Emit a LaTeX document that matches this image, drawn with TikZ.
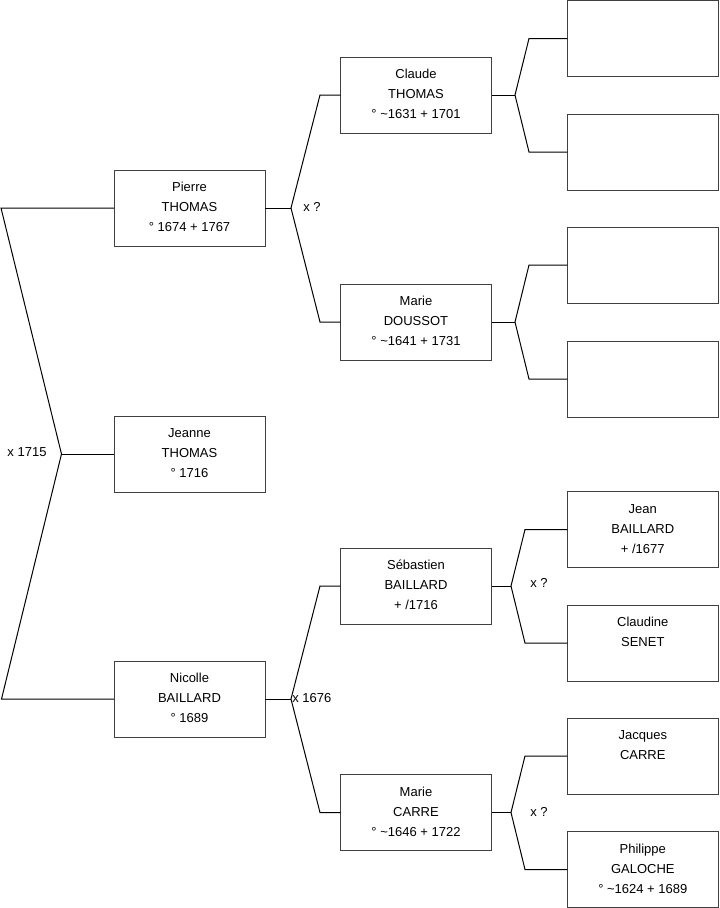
\documentclass[tikz,border=0pt]{standalone}
\usepackage{fontspec}
\setmainfont{Liberation Sans}
\usetikzlibrary{calc}
\newcommand\plines[1]{\begin{tabular}[t]{@{}c@{}}#1\end{tabular}}
\begin{document}
\begin{tikzpicture}[x=0.75pt,y=-0.75pt,
  pbox/.style={draw=black!75, line width=0.75pt, minimum width=113.25pt, minimum height=57pt, inner sep=0pt, outer sep=0pt},
  ptext/.style={anchor=base, inner sep=0pt, font=\fontsize{9.75}{15}\selectfont},
  conn/.style={draw=black, line width=0.75pt},
  marr/.style={inner sep=0pt, font=\fontsize{9.75}{15}\selectfont}]
\useasboundingbox (0,0) rectangle (719,908);

% boxes
\node[pbox] (pierre) at (189.5,208) {};
\node[pbox] (jeanne) at (189.5,454) {};
\node[pbox] (nicolle) at (189.5,699) {};
\node[pbox] (claude) at (416,95) {};
\node[pbox] (marieD) at (416,322) {};
\node[pbox] (sebastien) at (416,586) {};
\node[pbox] (marieC) at (416,812.5) {};
\node[pbox] (c1) at (642.8,38.5) {};
\node[pbox] (c2) at (642.8,152) {};
\node[pbox] (c3) at (642.8,265) {};
\node[pbox] (c4) at (642.8,379) {};
\node[pbox] (jean) at (642.8,529.5) {};
\node[pbox] (claudine) at (642.8,643) {};
\node[pbox] (jacques) at (642.8,756) {};
\node[pbox] (philippe) at (642.8,869.5) {};

% texts
\node[ptext] (pierreT) at ($(pierre.north)+(0,21.5)$) {\plines{Pierre\\THOMAS\\° 1674 + 1767}};
\node[ptext] (jeanneT) at ($(jeanne.north)+(0,21.5)$) {\plines{Jeanne\\THOMAS\\° 1716}};
\node[ptext] (nicolleT) at ($(nicolle.north)+(0,21.5)$) {\plines{Nicolle\\BAILLARD\\° 1689}};
\node[ptext] (claudeT) at ($(claude.north)+(0,21.5)$) {\plines{Claude\\THOMAS\\° \textasciitilde 1631 + 1701}};
\node[ptext] (marieDT) at ($(marieD.north)+(0,21.5)$) {\plines{Marie\\DOUSSOT\\° \textasciitilde 1641 + 1731}};
\node[ptext] (sebastienT) at ($(sebastien.north)+(0,21.5)$) {\plines{Sébastien\\BAILLARD\\+ /1716}};
\node[ptext] (marieCT) at ($(marieC.north)+(0,21.5)$) {\plines{Marie\\CARRE\\° \textasciitilde 1646 + 1722}};
\node[ptext] (jeanT) at ($(jean.north)+(0,21.5)$) {\plines{Jean\\BAILLARD\\+ /1677}};
\node[ptext] (claudineT) at ($(claudine.north)+(0,21.5)$) {\plines{Claudine\\SENET}};
\node[ptext] (jacquesT) at ($(jacques.north)+(0,21.5)$) {\plines{Jacques\\CARRE}};
\node[ptext] (philippeT) at ($(philippe.north)+(0,21.5)$) {\plines{Philippe\\GALOCHE\\° \textasciitilde 1624 + 1689}};

% joint coordinates
\coordinate (r0) at (1,208);
\coordinate (rv) at (61.5,454);
\coordinate (r1) at (1.5,699);
\coordinate (pv) at (291,208);
\coordinate (pa) at (320,95);
\coordinate (pb) at (320,322);
\coordinate (cv) at (515,95);
\coordinate (ca) at (529,38.5);
\coordinate (cb) at (529,152);
\coordinate (mv) at (515,322);
\coordinate (ma) at (529,265);
\coordinate (mb) at (529,379);
\coordinate (nv) at (291,699);
\coordinate (na) at (320,586);
\coordinate (nb) at (320,812.5);
\coordinate (sv) at (511,586);
\coordinate (sa) at (525,529.5);
\coordinate (sb) at (525,643);
\coordinate (qv) at (511,812.5);
\coordinate (qa) at (525,756);
\coordinate (qb) at (525,869.5);

% connectors
\draw[conn] (pierre.west) -- (r0) -- (rv) -- (r1) -- (nicolle.west);
\draw[conn] (rv) -- (jeanne.west);
\draw[conn] (claude.west) -- (pa) -- (pv) -- (pb) -- (marieD.west);
\draw[conn] (pierre.east) -- (pv);
\draw[conn] (c1.west) -- (ca) -- (cv) -- (cb) -- (c2.west);
\draw[conn] (claude.east) -- (cv);
\draw[conn] (c3.west) -- (ma) -- (mv) -- (mb) -- (c4.west);
\draw[conn] (marieD.east) -- (mv);
\draw[conn] (sebastien.west) -- (na) -- (nv) -- (nb) -- (marieC.west);
\draw[conn] (nicolle.east) -- (nv);
\draw[conn] (jean.west) -- (sa) -- (sv) -- (sb) -- (claudine.west);
\draw[conn] (sebastien.east) -- (sv);
\draw[conn] (jacques.west) -- (qa) -- (qv) -- (qb) -- (philippe.west);
\draw[conn] (marieC.east) -- (qv);

% marriage labels
\node[marr] (m1) at (27,452) {x 1715};
\node[marr] (m2) at (312,207) {x ?};
\node[marr, anchor=west] (m3) at (292,698) {x 1676};
\node[marr] (m4) at (539,583) {x ?};
\node[marr] (m5) at (539,812) {x ?};
\end{tikzpicture}
\end{document}
